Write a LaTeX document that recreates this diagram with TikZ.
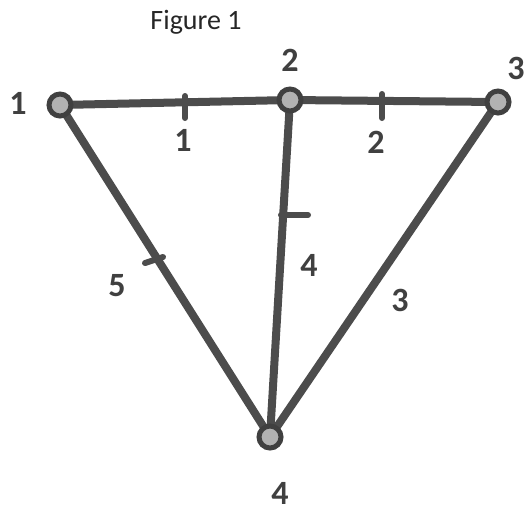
\documentclass[tikz,border=0pt]{standalone}
\usepackage{fontspec}
\setmainfont{Carlito}
\begin{document}
\begin{tikzpicture}[x=1pt,y=-1pt,
  edge/.style={draw=black!70, line width=8pt, line cap=round},
  vert/.style={circle, draw=black!75, line width=5pt, fill=black!30, minimum size=22pt, inner sep=0pt},
  vlab/.style={text=black!75, font=\fontsize{34}{34}\selectfont\bfseries},
  elab/.style={text=black!75, font=\fontsize{34}{34}\selectfont\bfseries},
  tick/.style={draw=black!70, line width=6pt, line cap=round}]
\useasboundingbox (0,0) rectangle (532,528);
\node[font=\fontsize{28}{28}\selectfont, text=black!85] (title) at (196,22) {Figure 1};
\draw[edge] (60,105) coordinate (c1) -- (290,100) coordinate (c2);
\draw[edge] (c2) -- (498,102) coordinate (c3);
\draw[edge] (c2) -- (270,437) coordinate (c4);
\draw[edge] (c1) -- (c4);
\draw[edge] (c3) -- (c4);
\node[vert] (n1) at (c1) {};
\node[vert] (n2) at (c2) {};
\node[vert] (n3) at (c3) {};
\node[vert] (n4) at (c4) {};
\node[vlab] (l1) at (18,103) {1};
\node[vlab] (l2) at (290,60) {2};
\node[vlab] (l3) at (516,68) {3};
\node[vlab] (l4) at (280,493) {4};
\node[elab] (e12) at (183,140) {1};
\node[elab] (e23) at (376,142) {2};
\node[elab] (e24) at (309,265) {4};
\node[elab] (e14) at (117,286) {5};
\node[elab] (e34) at (400,300) {3};
\coordinate (t1a) at (185,96); \coordinate (t1b) at (185,118);
\draw[tick] (t1a) -- (t1b);
\coordinate (t2a) at (382,94); \coordinate (t2b) at (382,118);
\draw[tick] (t2a) -- (t2b);
\coordinate (t3a) at (281,215); \coordinate (t3b) at (308,215);
\draw[tick] (t3a) -- (t3b);
\coordinate (t4a) at (145,263); \coordinate (t4b) at (163,257);
\draw[tick] (t4a) -- (t4b);
\end{tikzpicture}
\end{document}
